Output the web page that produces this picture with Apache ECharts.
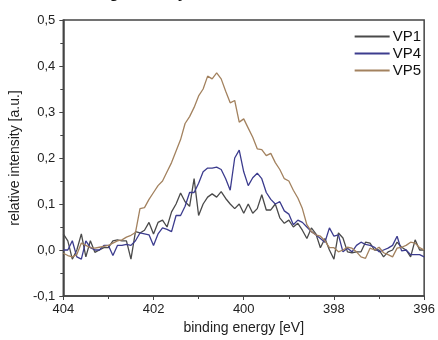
<!DOCTYPE html>
<html>
<head>
<meta charset="utf-8">
<script src="https://cdn.jsdelivr.net/npm/echarts@6/dist/echarts.min.js"></script>
<style>
  html, body { margin: 0; padding: 0; background: #fff; }
  #chart { width: 438px; height: 340px; }
</style>
</head>
<body>
<div id="chart"></div>
<script>
// binding energy grid: 404 eV down to 396 eV, 0.1 eV step
const eStart = 404;
const eStep = 0.1;

const vp1 = [0.035, 0.02, -0.02, 0.0, 0.035, -0.015, 0.02, -0.005, 0.0, 0.005,
  0.005, 0.02, 0.022, 0.02, 0.02, -0.02, 0.04, 0.037, 0.043, 0.06,
  0.035, 0.06, 0.065, 0.05, 0.083, 0.1, 0.124, 0.105, 0.095, 0.155,
  0.075, 0.1, 0.115, 0.122, 0.115, 0.127, 0.112, 0.1, 0.09, 0.1,
  0.08, 0.1, 0.08, 0.09, 0.12, 0.087, 0.087, 0.1, 0.07, 0.058,
  0.065, 0.05, 0.058, 0.043, 0.025, 0.048, 0.035, 0.005, 0.025, 0.0,
  -0.02, 0.037, 0.026, -0.004, -0.006, -0.004, -0.004, 0.017, 0.015, 0.0,
  0.0, -0.015, -0.004, 0.0, 0.017, 0.006, 0.0, -0.015, 0.022, 0.0, 0.0];

const vp4 = [0.0, 0.0, 0.02, -0.015, -0.02, 0.02, 0.005, 0.0, 0.0, 0.01,
  0.01, -0.012, 0.01, 0.01, 0.012, 0.01, 0.02, 0.037, 0.035, 0.033,
  0.01, 0.035, 0.048, 0.045, 0.04, 0.075, 0.075, 0.095, 0.125, 0.125,
  0.145, 0.17, 0.178, 0.178, 0.18, 0.175, 0.155, 0.13, 0.2, 0.217,
  0.17, 0.14, 0.157, 0.167, 0.155, 0.125, 0.11, 0.1, 0.105, 0.085,
  0.078, 0.055, 0.065, 0.06, 0.05, 0.04, 0.033, 0.025, 0.017, 0.048,
  0.03, 0.033, -0.004, 0.004, -0.004, 0.01, 0.017, 0.012, 0.01, 0.006,
  -0.004, 0.0, 0.004, 0.01, 0.03, -0.002, 0.0, -0.01, -0.01, -0.01, -0.015];

const vp5 = [-0.007, -0.012, -0.015, -0.01, 0.015, 0.01, 0.005, 0.004, 0.006, 0.008,
  0.01, 0.015, 0.02, 0.022, 0.028, 0.032, 0.038, 0.09, 0.092, 0.11,
  0.125, 0.14, 0.15, 0.17, 0.19, 0.215, 0.24, 0.275, 0.29, 0.31,
  0.335, 0.35, 0.378, 0.372, 0.385, 0.372, 0.345, 0.32, 0.325, 0.278,
  0.285, 0.265, 0.245, 0.22, 0.218, 0.205, 0.21, 0.19, 0.175, 0.155,
  0.15, 0.13, 0.113, 0.09, 0.055, 0.04, 0.033, 0.03, 0.02, 0.005,
  0.005, -0.004, 0.0, 0.006, 0.004, -0.004, -0.015, -0.018, 0.004, 0.0,
  0.006, -0.006, -0.01, -0.015, 0.004, 0.006, 0.01, 0.017, 0.015, 0.005, 0.0];

const seriesNames = ['VP1', 'VP4', 'VP5'];
const seriesColors = ['#4a4a4a', '#3c3c8e', '#a3825f'];
const yTicks = [-0.1, 0.0, 0.1, 0.2, 0.3, 0.4, 0.5];

function pairs(vals) {
  return vals.map((v, i) => [+(eStart - eStep * i).toFixed(1), v]);
}

const chart = echarts.init(document.getElementById('chart'));
const font = 'Liberation Sans';

chart.setOption({
  animation: false,
  textStyle: { fontFamily: font },
  title: {
    text: 'Nitrogen Study',
    left: 72,
    top: -14,
    padding: 0,
    textStyle: { fontFamily: font, fontSize: 16, fontWeight: 'bold', color: '#111' }
  },
  legend: {
    orient: 'vertical',
    right: 12,
    top: 24,
    itemWidth: 35,
    itemHeight: 2,
    itemGap: 2,
    icon: 'rect',
    textStyle: { fontFamily: font, fontSize: 15, color: '#111', padding: [0, 0, 0, -2] },
    data: seriesNames
  },
  grid: {
    left: 62, right: 9, top: 20, bottom: 44,
    show: true, borderColor: '#444', borderWidth: 1.5, backgroundColor: 'transparent'
  },
  xAxis: {
    type: 'value',
    min: 396, max: 404, interval: 2,
    inverse: true,
    name: 'binding energy [eV]',
    nameLocation: 'middle',
    nameGap: 23,
    nameTextStyle: { fontFamily: font, fontSize: 14, color: '#222' },
    axisLine: { onZero: false, lineStyle: { color: '#444', width: 1.5 } },
    axisTick: { inside: false, length: 4, lineStyle: { color: '#444' } },
    minorTick: { show: true, splitNumber: 2, length: 3, lineStyle: { color: '#444' } },
    splitLine: { show: false },
    axisLabel: { fontFamily: font, fontSize: 13, color: '#222', margin: 7 }
  },
  yAxis: {
    type: 'value',
    min: yTicks[0], max: yTicks[yTicks.length - 1], interval: 0.1,
    name: 'relative intensity [a.u.]',
    nameLocation: 'middle',
    nameGap: 38,
    nameTextStyle: { fontFamily: font, fontSize: 14, color: '#222' },
    axisLine: { show: true, onZero: false, lineStyle: { color: '#444', width: 1.5 } },
    axisTick: { show: true, inside: false, length: 4, lineStyle: { color: '#444' } },
    minorTick: { show: true, splitNumber: 2, length: 3, lineStyle: { color: '#444' } },
    splitLine: { show: false },
    axisLabel: {
      fontFamily: font, fontSize: 13, color: '#222', margin: 8,
      formatter: v => v.toFixed(1).replace('.', ',')
    }
  },
  series: [vp1, vp4, vp5].map((vals, i) => ({
    name: seriesNames[i],
    type: 'line',
    data: pairs(vals),
    showSymbol: false,
    color: seriesColors[i],
    lineStyle: { width: 1.3, color: seriesColors[i] }
  }))
});
</script>
</body>
</html>
